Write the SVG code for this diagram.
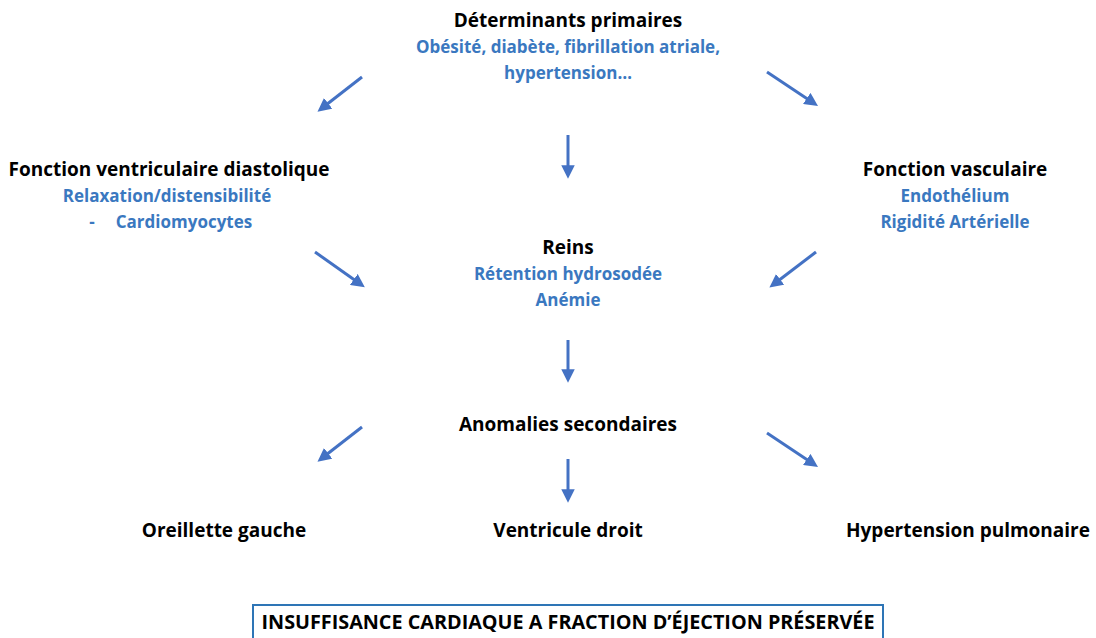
<svg xmlns="http://www.w3.org/2000/svg" width="1096" height="638" viewBox="0 0 1096 638">
<style>
text{font-family:"Open Sans",Lato,"Liberation Sans",sans-serif;font-weight:bold;font-size:19px;text-anchor:middle}
.t{fill:#000}
.b{fill:#3a78c0;font-size:17px}
.box{font-size:19.8px}
.arr{stroke:#4472c4;stroke-width:3;fill:none;marker-end:url(#ah)}
</style>
<defs>
<marker id="ah" viewBox="0 0 10 10" refX="2" refY="5" markerWidth="4.5" markerHeight="4.5" orient="auto" markerUnits="strokeWidth">
<path d="M0,0 L10,5 L0,10 Z" fill="#4472c4"/>
</marker>
</defs>
<rect width="1096" height="638" fill="#fff"/>
<g id="connectors">
<line class="arr" x1="362" y1="77" x2="326" y2="105"/>
<line class="arr" x1="767" y1="72" x2="809" y2="100"/>
<line class="arr" x1="568" y1="135" x2="568" y2="168"/>
<line class="arr" x1="315" y1="252" x2="356" y2="281"/>
<line class="arr" x1="816" y1="252" x2="778" y2="281"/>
<line class="arr" x1="568" y1="340" x2="568" y2="372"/>
<line class="arr" x1="362" y1="427" x2="326" y2="455"/>
<line class="arr" x1="767" y1="433" x2="809" y2="461"/>
<line class="arr" x1="568" y1="459" x2="568" y2="492"/>
</g>
<g id="determinants">
<text class="t" x="568" y="27">Déterminants primaires</text>
<text class="b" x="568" y="53">Obésité, diabète, fibrillation atriale,</text>
<text class="b" x="568" y="79">hypertension…</text>
</g>
<g id="fonction-ventriculaire">
<text class="t" x="169" y="176">Fonction ventriculaire diastolique</text>
<text class="b" x="167" y="202">Relaxation/distensibilité</text>
<text class="b" x="92" y="228">-</text>
<text class="b" x="184" y="228">Cardiomyocytes</text>
</g>
<g id="fonction-vasculaire">
<text class="t" x="955" y="176">Fonction vasculaire</text>
<text class="b" x="955" y="202">Endothélium</text>
<text class="b" x="955" y="228">Rigidité Artérielle</text>
</g>
<g id="reins">
<text class="t" x="568" y="254">Reins</text>
<text class="b" x="568" y="280">Rétention hydrosodée</text>
<text class="b" x="568" y="306">Anémie</text>
</g>
<g id="anomalies">
<text class="t" x="568" y="431">Anomalies secondaires</text>
</g>
<g id="oreillette">
<text class="t" x="224" y="537">Oreillette gauche</text>
</g>
<g id="ventricule">
<text class="t" x="568" y="537">Ventricule droit</text>
</g>
<g id="hypertension-pulmonaire">
<text class="t" x="968" y="537">Hypertension pulmonaire</text>
</g>
<g id="ic-fep">
<rect x="253" y="605" width="630" height="40" fill="none" stroke="#2e75b6" stroke-width="2"/>
<text class="t box" x="568" y="629">INSUFFISANCE CARDIAQUE A FRACTION D’ÉJECTION PRÉSERVÉE</text>
</g>
</svg>
